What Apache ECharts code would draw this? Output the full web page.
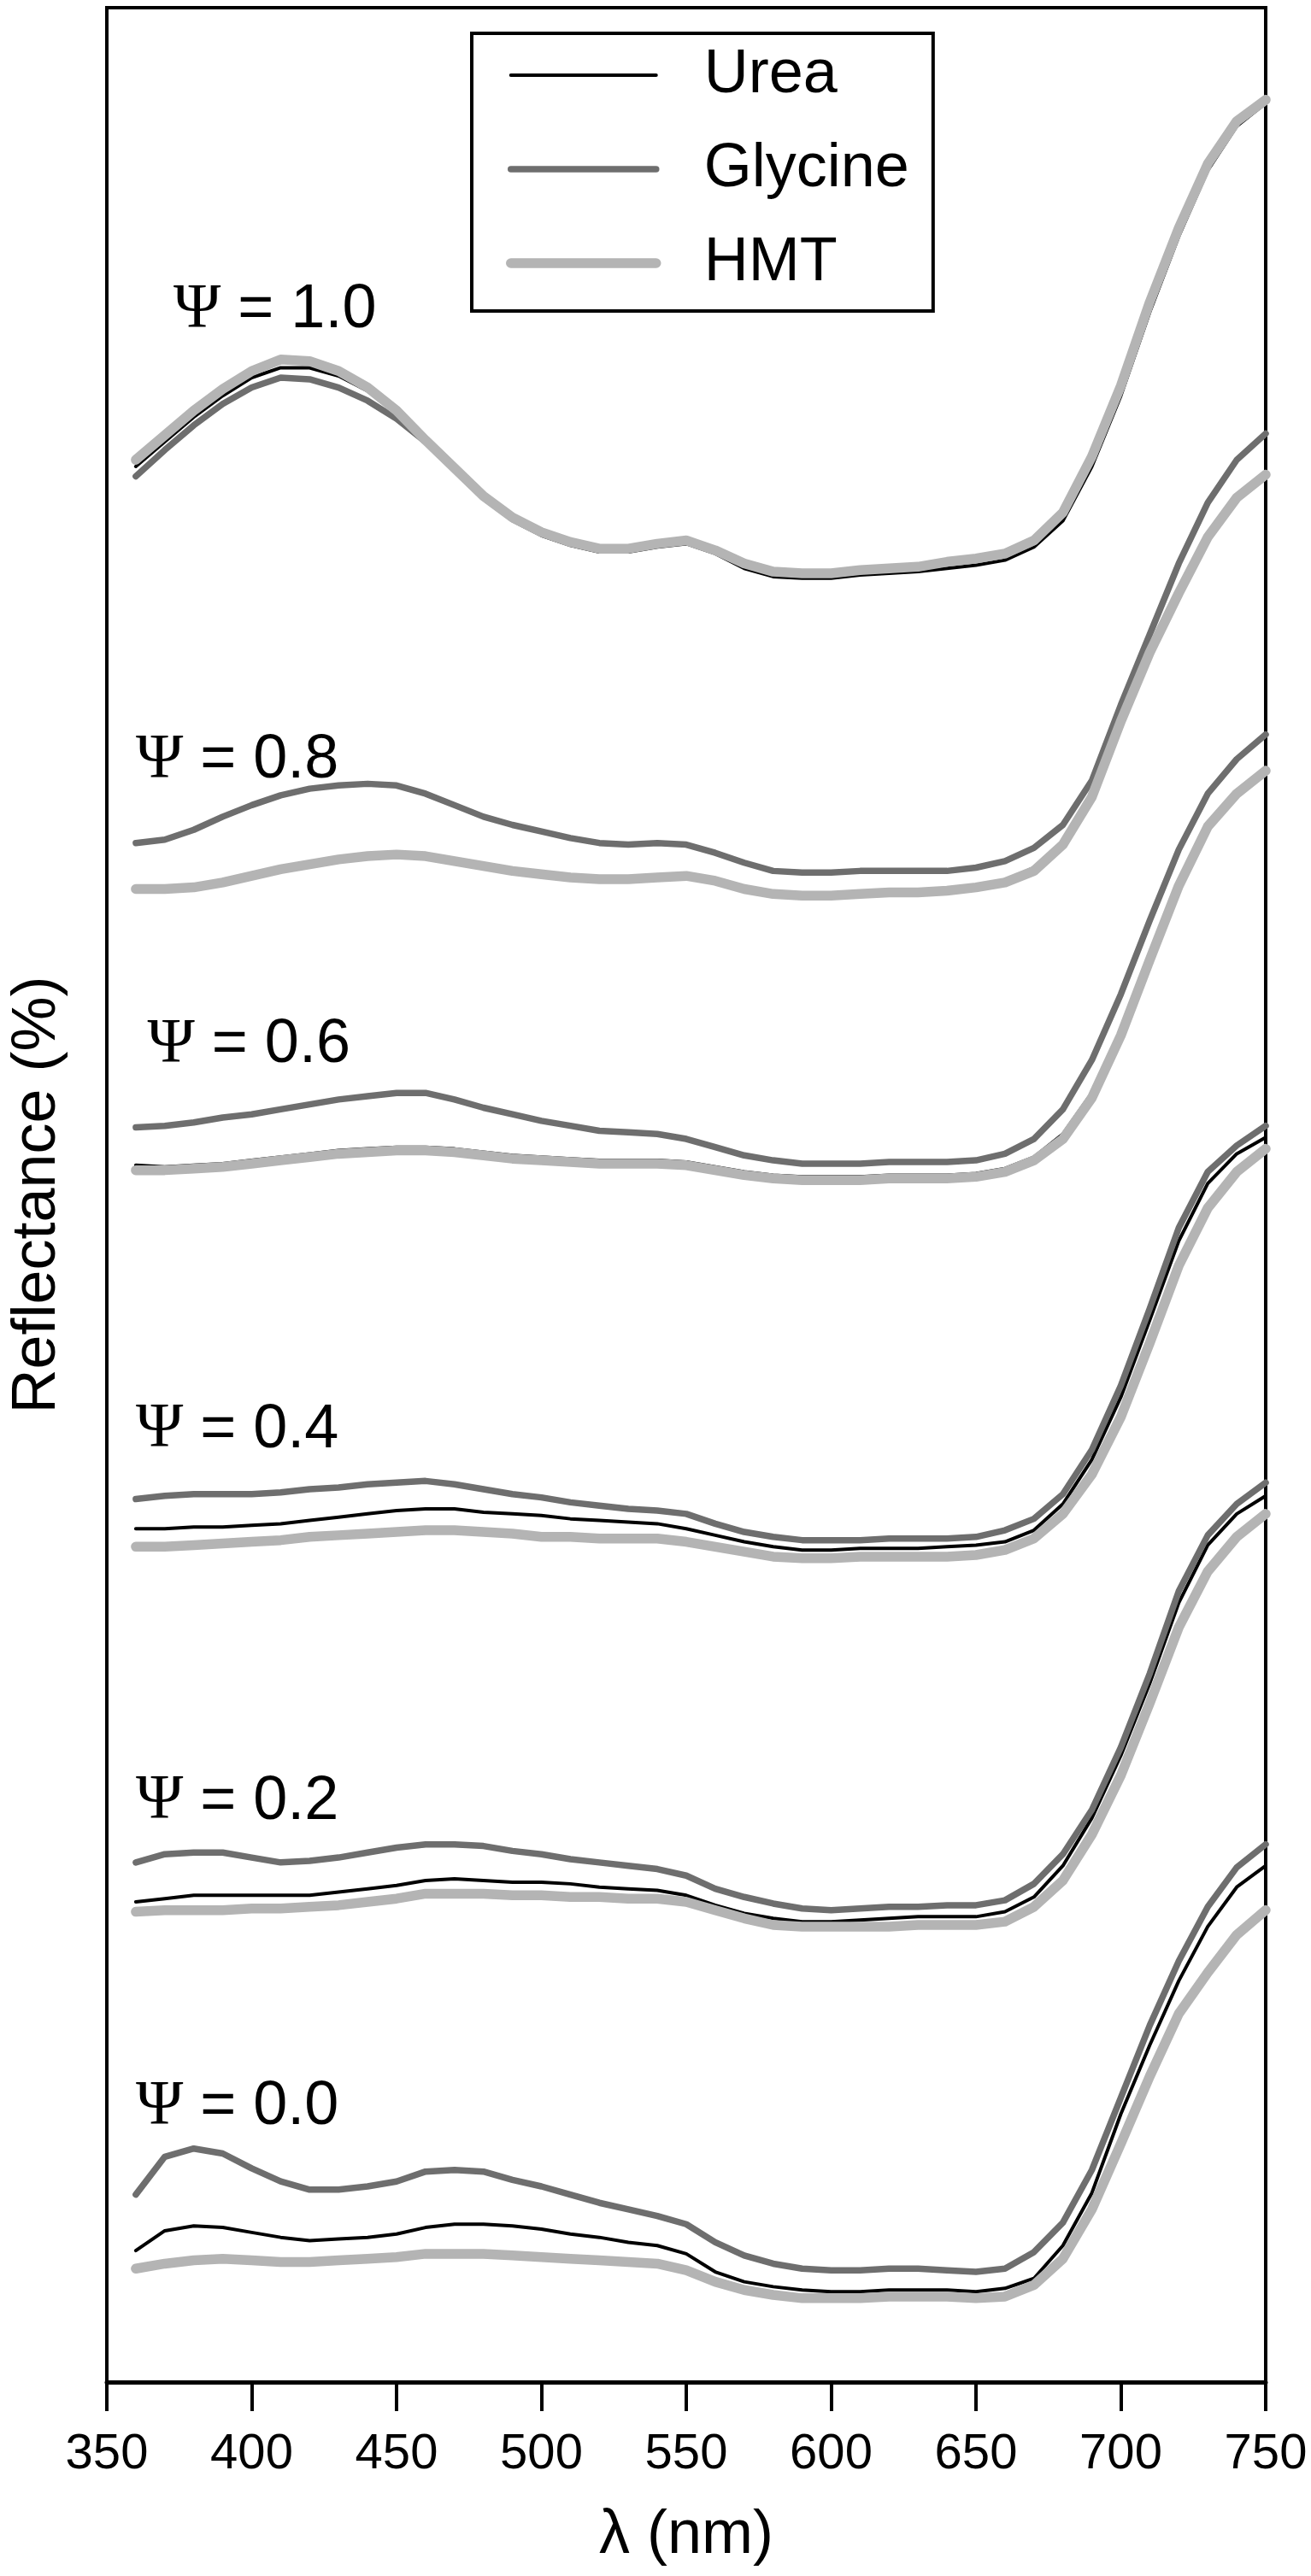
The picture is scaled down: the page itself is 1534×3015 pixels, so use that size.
<!DOCTYPE html>
<html>
<head>
<meta charset="utf-8">
<script src="https://cdn.jsdelivr.net/npm/echarts@6/dist/echarts.min.js"></script>
<style>
html,body{margin:0;padding:0;background:#ffffff;}
#chart{width:1534px;height:3015px;}
</style>
</head>
<body>
<div id="chart"></div>
<script>
// Wavelengths (nm)
const wavelengths = [360,370,380,390,400,410,420,430,440,450,460,470,480,490,500,510,520,530,540,550,
                     560,570,580,590,600,610,620,630,640,650,660,670,680,690,700,710,720,730,740,750];
const xTickLabels = [350,400,450,500,550,600,650,700,750];

// Reflectance curves (arbitrary offset units, stacked by Psi)
const urea_psi10    = [1165,1180,1195,1208,1219,1225,1225,1220,1211,1198,1181,1163,1145,1132,1123,1117,1113,1113,1116,1118,1112,1103,1098,1097,1097,1099,1100,1101,1103,1105,1108,1116,1132,1165,1208,1259,1305,1345,1372,1386];
const glycine_psi10 = [1159,1175,1190,1203,1213,1219,1218,1213,1205,1194,1180,1164,1147,1134,1125,1119,1115,1115,1118,1120,1114,1106,1101,1100,1100,1102,1103,1104,1106,1108,1111,1119,1136,1170,1213,1264,1309,1348,1374,1387];
const hmt_psi10     = [1169,1184,1199,1212,1223,1230,1229,1223,1213,1199,1181,1164,1147,1134,1125,1119,1115,1115,1118,1120,1114,1106,1101,1100,1100,1102,1103,1104,1107,1109,1112,1120,1137,1171,1214,1265,1310,1349,1375,1388];

const urea_psi08    = [909,909,910,913,917,921,924,927,929,930,929,926,923,920,918,916,915,915,916,917,914,909,906,905,905,906,907,907,908,910,913,921,937,967,1013,1055,1091,1124,1147,1161];
const glycine_psi08 = [936,938,944,952,959,965,969,971,972,971,966,959,952,947,943,939,936,935,936,935,930,924,919,918,918,919,919,919,919,921,925,933,947,974,1020,1063,1106,1143,1169,1185];
const hmt_psi08     = [908,908,909,912,916,920,923,926,928,929,928,925,922,919,917,915,914,914,915,916,913,908,905,904,904,905,906,906,907,909,912,919,935,964,1010,1052,1088,1122,1146,1160];

const urea_psi06    = [740,739,740,741,743,745,747,749,750,751,751,750,748,746,745,744,743,743,743,742,739,736,734,733,733,733,734,734,734,735,738,745,759,784,822,868,913,948,968,981];
const glycine_psi06 = [763,764,766,769,771,774,777,780,782,784,784,780,775,771,767,764,761,760,759,756,751,746,743,741,741,741,742,742,742,743,747,756,774,804,844,889,932,966,987,1002];
const hmt_psi06     = [737,737,738,739,741,743,745,747,748,749,749,748,746,744,743,742,741,741,741,740,737,734,732,731,731,731,732,732,732,733,736,743,756,781,819,865,910,946,966,980];

const urea_psi04    = [519,519,520,520,521,522,524,526,528,530,531,531,529,528,527,525,524,523,522,519,515,511,508,506,506,507,507,507,508,509,511,518,534,561,599,646,694,729,747,757];
const glycine_psi04 = [537,539,540,540,540,541,543,544,546,547,548,546,543,540,538,535,533,531,530,528,522,517,514,512,512,512,513,513,513,514,518,525,540,567,606,653,702,736,752,764];
const hmt_psi04     = [508,508,509,510,511,512,514,515,516,517,518,518,517,516,514,514,513,513,513,511,508,505,502,501,501,502,502,502,502,503,506,513,528,552,587,632,679,714,736,750];

const urea_psi02    = [292,294,296,296,296,296,296,298,300,302,305,306,305,304,304,303,301,300,299,296,290,285,282,280,280,281,282,283,283,283,286,295,314,343,381,425,474,509,528,539];
const glycine_psi02 = [316,321,322,322,319,316,317,319,322,325,327,327,326,323,321,318,316,314,312,308,300,295,291,288,287,288,289,289,290,290,293,303,321,348,386,431,481,515,534,547];
const hmt_psi02     = [286,287,287,287,288,288,289,290,292,294,297,297,297,296,296,295,295,294,294,292,287,282,278,277,277,277,277,278,278,278,280,289,305,333,369,413,459,493,514,528];

const urea_psi00    = [80,92,95,94,91,88,86,87,88,90,94,96,96,95,93,90,88,85,83,78,67,61,58,56,55,55,56,56,56,55,57,63,83,115,163,205,244,277,301,314];
const glycine_psi00 = [114,137,142,139,130,122,117,117,119,122,128,129,128,123,119,114,109,105,101,96,85,77,72,69,68,68,69,69,68,67,69,79,97,129,173,217,256,289,313,327];
const hmt_psi00     = [69,72,74,75,74,73,73,74,75,76,78,78,78,77,76,75,74,73,72,68,61,56,53,51,51,51,52,52,52,51,52,59,75,105,145,186,224,249,272,287];

// Psi annotations (text, anchor wavelength, anchor level)
const psiLabels = ['1.0','0.8','0.6','0.4','0.2','0.0'];
const psiLabelX = [373,360,364,360,360,360];
const psiLabelY = [1260,986,813,579,353,167];

const seriesNames = ['Urea','Glycine','HMT'];

const groups = [
  [urea_psi10, glycine_psi10, hmt_psi10],
  [urea_psi08, glycine_psi08, hmt_psi08],
  [urea_psi06, glycine_psi06, hmt_psi06],
  [urea_psi04, glycine_psi04, hmt_psi04],
  [urea_psi02, glycine_psi02, hmt_psi02],
  [urea_psi00, glycine_psi00, hmt_psi00]
];

const styles = {
  Urea:    {color:'#000000', width:4,    z:2},
  Glycine: {color:'#6e6e6e', width:7.5,  z:3},
  HMT:     {color:'#b4b4b4', width:11.5, z:4}
};

const series = [];
groups.forEach(function(g){
  g.forEach(function(vals, i){
    const name = seriesNames[i];
    const st = styles[name];
    series.push({
      name: name,
      type: 'line',
      symbol: 'none',
      showSymbol: false,
      z: st.z,
      color: st.color,
      lineStyle: {color: st.color, width: st.width, cap: 'round', join: 'round'},
      data: wavelengths.map(function(w, k){ return [w, vals[k]]; }),
      silent: true
    });
  });
});

series.push({
  type: 'scatter',
  name: 'labels',
  symbolSize: 0,
  silent: true,
  z: 10,
  itemStyle: {opacity: 1, color: '#000000'},
  data: psiLabels.map(function(t, k){ return {value:[psiLabelX[k], psiLabelY[k]], name:t}; }),
  label: {
    show: true,
    position: 'right',
    distance: 0,
    color: '#000000',
    opacity: 1,
    textBorderWidth: 0,
    formatter: function(p){ return '{psi|Ψ}{t| = ' + p.name + '}'; },
    rich: {
      psi: {fontFamily:'Liberation Serif', fontSize:75, color:'#000000', textBorderWidth:0},
      t:   {fontFamily:'Liberation Sans', fontSize:72, color:'#000000', textBorderWidth:0}
    }
  }
});

const chart = echarts.init(document.getElementById('chart'), null, {renderer:'canvas'});
chart.setOption({
  animation: false,
  backgroundColor: '#ffffff',
  grid: {
    left: 124, right: 53, top: 9, bottom: 227,
    show: true, borderWidth: 4, borderColor: '#000', backgroundColor: 'transparent'
  },
  legend: {
    left: 552, top: 39,
    orient: 'vertical',
    padding: [13, 28, 20, 40],
    itemWidth: 170,
    itemHeight: 72,
    itemGap: 38,
    borderColor: '#000',
    borderWidth: 4,
    backgroundColor: '#fff',
    selectedMode: false,
    itemStyle: {opacity: 0},
    textStyle: {fontFamily:'Liberation Sans', fontSize:72, color:'#000', lineHeight:72, padding:[0,0,0,51]},
    data: [
      {name:'Urea',    lineStyle:{width:4,    color:'#000000', cap:'round'}},
      {name:'Glycine', lineStyle:{width:7.5,  color:'#6e6e6e', cap:'round'}},
      {name:'HMT',     lineStyle:{width:11.5, color:'#b4b4b4', cap:'round'}}
    ]
  },
  xAxis: {
    type: 'value',
    min: xTickLabels[0],
    max: xTickLabels[xTickLabels.length-1],
    interval: 50,
    name: 'λ (nm)',
    nameLocation: 'middle',
    nameGap: 144,
    nameTextStyle: {fontFamily:'Liberation Sans', fontSize:72, color:'#000'},
    axisLine: {show:true, lineStyle:{color:'#000', width:5}},
    axisTick: {show:true, inside:false, length:34, lineStyle:{color:'#000', width:4}},
    axisLabel: {fontFamily:'Liberation Sans', fontSize:58, color:'#000', margin:56},
    splitLine: {show:false}
  },
  yAxis: {
    type: 'value',
    min: 0,
    max: 1444,
    name: 'Reflectance (%)',
    nameLocation: 'middle',
    nameGap: 45,
    nameRotate: 90,
    nameTextStyle: {fontFamily:'Liberation Sans', fontSize:72, color:'#000'},
    axisLine: {show:false},
    axisTick: {show:false},
    axisLabel: {show:false},
    splitLine: {show:false}
  },
  series: series
});
</script>
</body>
</html>
